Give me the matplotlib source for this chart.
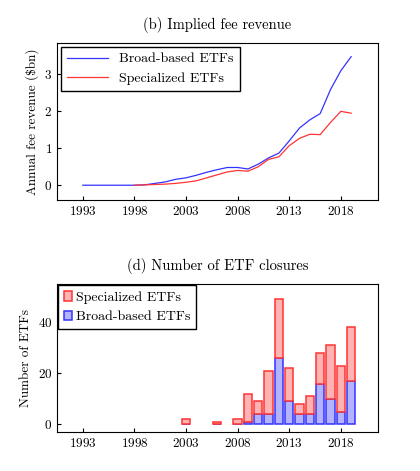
import numpy as np
import matplotlib.pyplot as plt

plt.rcParams.update({
    "font.family": "serif",
    "font.serif": ["cmr10", "DejaVu Serif"],
    "mathtext.fontset": "cm",
    "axes.formatter.use_mathtext": True,
    "font.size": 9.5,
})

# ── Implied fee revenue ($bn) ──
years_fee = list(range(1993, 2020))
broad_fee = [0, 0, 0, 0, 0, 0, 0.01, 0.05, 0.09, 0.16, 0.20, 0.27, 0.35, 0.42,
             0.48, 0.48, 0.44, 0.57, 0.74, 0.87, 1.20, 1.55, 1.77, 1.94, 2.59, 3.10, 3.48]
years_spec = list(range(1998, 2020))
spec_fee = [0, 0.01, 0.02, 0.03, 0.05, 0.08, 0.12, 0.20, 0.28, 0.36, 0.40, 0.38,
            0.50, 0.70, 0.77, 1.07, 1.27, 1.38, 1.37, 1.70, 2.00, 1.95]

# ── ETF closures ──
close_years = [2003, 2006, 2008, 2009, 2010, 2011, 2012, 2013, 2014, 2015, 2016, 2017, 2018, 2019]
close_total = [2, 1, 2, 12, 9, 21, 49, 22, 8, 11, 28, 31, 23, 38]
close_broad = [0, 0, 0, 1, 4, 4, 26, 9, 4, 4, 16, 10, 5, 17]

BLUE = "#3333ff"
RED = "#ff3333"

fig = plt.figure(figsize=(4.2, 4.71), dpi=100)
ax1 = fig.add_axes([57/420, 1 - 200/471, 321/420, 157/471])
ax2 = fig.add_axes([57/420, 1 - 432/471, 321/420, 148/471])

ax1.plot(years_fee, broad_fee, color=BLUE, lw=0.9, label="Broad-based ETFs")
ax1.plot(years_spec, spec_fee, color=RED, lw=0.9, label="Specialized ETFs")
ax1.set_xlim(1990.5, 2021.6)
ax1.set_ylim(-0.4, 3.85)
ax1.set_yticks([0, 1, 2, 3])
ax1.set_xticks([1993, 1998, 2003, 2008, 2013, 2018])
ax1.set_ylabel("Annual fee revenue ($bn)")
ax1.set_title("(b) Implied fee revenue", fontsize=10.5, pad=10)
ax1.legend(loc="upper left", fancybox=False, edgecolor="black", framealpha=1,
           handlelength=3, borderaxespad=0.3, fontsize=10)

spec_part = [t - b for t, b in zip(close_total, close_broad)]
ax2.bar(close_years, close_broad, width=0.8, color="#b3b3ff", edgecolor=BLUE,
        lw=1.1, label="Broad-based ETFs")
ax2.bar(close_years, spec_part, bottom=close_broad, width=0.8, color="#ffb3b3",
        edgecolor=RED, lw=1.1, label="Specialized ETFs")
ax2.set_xlim(1990.5, 2021.6)
ax2.set_ylim(-3, 55)
ax2.set_yticks([0, 20, 40])
ax2.set_xticks([1993, 1998, 2003, 2008, 2013, 2018])
ax2.set_ylabel("Number of ETFs")
ax2.set_title("(d) Number of ETF closures", fontsize=10.5, pad=10)
h, l = ax2.get_legend_handles_labels()
ax2.legend(h[::-1], l[::-1], loc="upper left", fancybox=False, edgecolor="black",
           framealpha=1, handlelength=0.6, handletextpad=0.3, borderaxespad=0.1,
           fontsize=10)

for ax in (ax1, ax2):
    ax.tick_params(direction="in", length=3)

fig.savefig("out.png", dpi=100)
